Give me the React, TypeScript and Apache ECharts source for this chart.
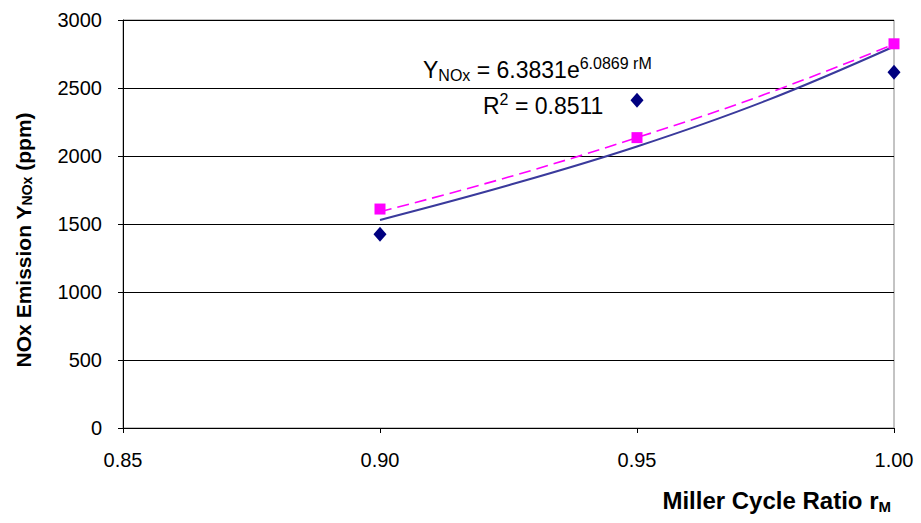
import React, { useEffect, useRef } from "react";
import * as echarts from "echarts";

const xTicks = [0.85, 0.9, 0.95, 1.0];
const yTicks = [0, 500, 1000, 1500, 2000, 2500, 3000];

const ratioX = [0.9, 0.95, 1.0];
const measuredNOx = [1425, 2410, 2615];
const modelNOx = [1610, 2135, 2825];

const trendX = [0.9, 0.925, 0.95, 0.975, 1.0];
const trendMeasured = [1530, 1785, 2070, 2405, 2805];
const trendModel = [1590, 1845, 2135, 2455, 2822];

const FONT = "Liberation Sans, Arial, sans-serif";

export default function App() {
  const ref = useRef<HTMLDivElement>(null);
  useEffect(() => {
    if (!ref.current) return;
    const chart = echarts.init(ref.current, undefined, { renderer: "svg" });
    chart.setOption({
      animation: false,
      backgroundColor: "#ffffff",
      textStyle: { fontFamily: FONT },
      grid: {
        left: 123,
        right: 27,
        top: 20,
        bottom: 95,
        show: true,
        borderColor: "#888888",
        borderWidth: 1,
      },
      xAxis: {
        type: "value",
        min: 0.85,
        max: 1.0,
        interval: 0.05,
        axisLine: { show: true, onZero: false, lineStyle: { color: "#000", width: 1 } },
        axisTick: { show: true, length: 5, lineStyle: { color: "#000" } },
        splitLine: { show: false },
        axisLabel: {
          color: "#000",
          fontSize: 20,
          fontFamily: FONT,
          margin: 22,
          formatter: (v: number) => v.toFixed(2),
          customValues: xTicks,
        },
      },
      yAxis: {
        type: "value",
        min: 0,
        max: 3000,
        interval: 500,
        axisLine: { show: true, lineStyle: { color: "#000", width: 1 } },
        axisTick: { show: true, length: 5, lineStyle: { color: "#000" } },
        splitLine: { show: true, lineStyle: { color: "#000", width: 1 } },
        axisLabel: {
          color: "#000",
          fontSize: 20,
          fontFamily: FONT,
          margin: 21,
          formatter: (v: number) => String(v),
          customValues: yTicks,
        },
      },
      graphic: [
        {
          type: "text",
          x: 23,
          y: 240,
          rotation: Math.PI / 2,
          style: {
            text: "{b|NOx Emission Y}{s|NOx}{b| (ppm)}",
            align: "center",
            verticalAlign: "middle",
            rich: {
              b: { fontSize: 21, fontWeight: "bold", fontFamily: FONT, fill: "#000" },
              s: { fontSize: 14, fontWeight: "bold", fontFamily: FONT, fill: "#000", padding: [8, 0, 0, 0] },
            },
          },
        },
        {
          type: "text",
          x: 891,
          y: 500,
          style: {
            text: "{b|Miller Cycle Ratio r}{s|M}",
            align: "right",
            verticalAlign: "middle",
            rich: {
              b: { fontSize: 24, fontWeight: "bold", fontFamily: FONT, fill: "#000" },
              s: { fontSize: 15, fontWeight: "bold", fontFamily: FONT, fill: "#000", padding: [12, 0, 0, 0] },
            },
          },
        },
        {
          type: "text",
          x: 423,
          y: 70,
          style: {
            text: "{n|Y}{s|NOx}{n| = 6.3831e}{p|6.0869 rM}",
            align: "left",
            verticalAlign: "middle",
            rich: {
              n: { fontSize: 23, fontFamily: FONT, fill: "#000" },
              s: { fontSize: 16, fontFamily: FONT, fill: "#000", padding: [10, 0, 0, 0] },
              p: { fontSize: 16, fontFamily: FONT, fill: "#000", padding: [0, 0, 13, 0] },
            },
          },
        },
        {
          type: "text",
          x: 483,
          y: 106,
          style: {
            text: "{n|R}{p|2}{n| = 0.8511}",
            align: "left",
            verticalAlign: "middle",
            rich: {
              n: { fontSize: 23, fontFamily: FONT, fill: "#000" },
              p: { fontSize: 16, fontFamily: FONT, fill: "#000", padding: [0, 0, 13, 0] },
            },
          },
        },
      ],
      series: [
        {
          type: "line",
          data: trendX.map((x, i) => [x, trendMeasured[i]]),
          showSymbol: false,
          smooth: 0.4,
          lineStyle: { color: "#3a3a9c", width: 2 },
          z: 2,
        },
        {
          type: "line",
          data: trendX.map((x, i) => [x, trendModel[i]]),
          showSymbol: false,
          smooth: 0.4,
          lineStyle: { color: "#ff00ff", width: 1.6, type: [12, 6] },
          z: 2,
        },
        {
          type: "scatter",
          data: ratioX.map((x, i) => [x, measuredNOx[i]]),
          symbol: "diamond",
          symbolSize: [13, 15],
          itemStyle: { color: "#000080", opacity: 1 },
          z: 5,
        },
        {
          type: "scatter",
          data: ratioX.map((x, i) => [x, modelNOx[i]]),
          symbol: "rect",
          symbolSize: 11,
          itemStyle: { color: "#ff00ff", opacity: 1 },
          z: 5,
        },
      ],
    });
    return () => chart.dispose();
  }, []);
  return (
    <div
      ref={ref}
      style={{ position: "absolute", left: 0, top: 0, width: 921, height: 523 }}
    />
  );
}
